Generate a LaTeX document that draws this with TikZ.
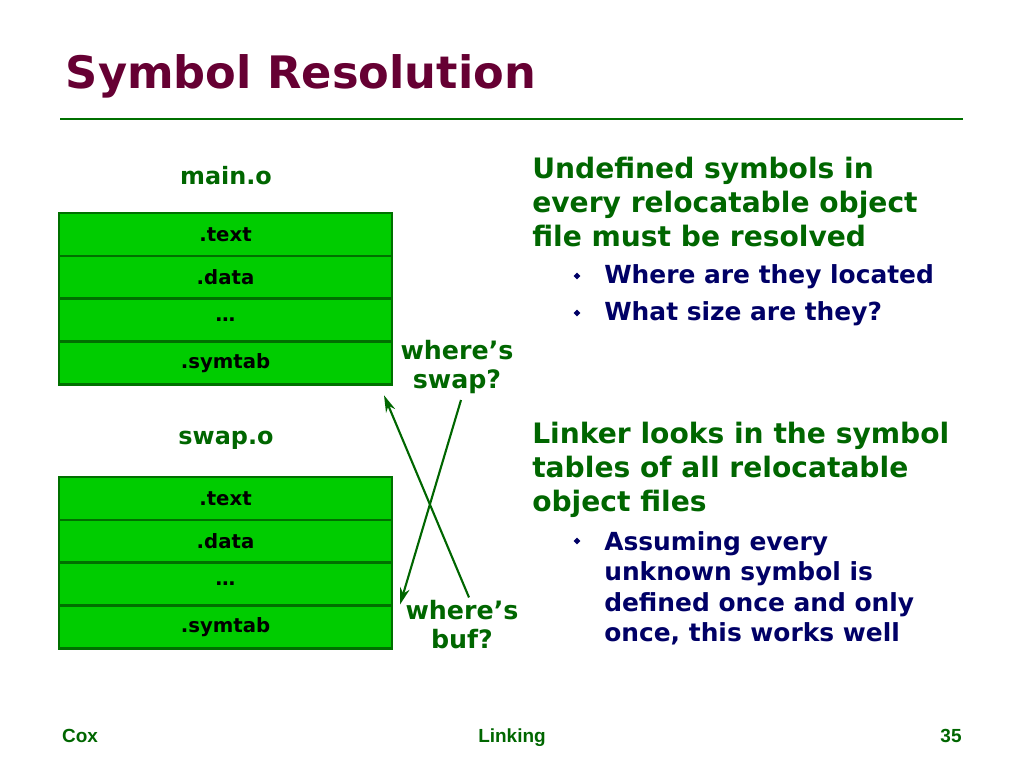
\documentclass[tikz,border=0pt]{standalone}
\usepackage{fontspec}
\setmainfont{DejaVu Sans}
\newfontfamily\footfont{Liberation Sans}
\usetikzlibrary{positioning,shapes.geometric,arrows.meta}
\definecolor{titlered}{RGB}{102,0,51}
\definecolor{dkgreen}{RGB}{0,102,0}
\definecolor{boxgreen}{RGB}{0,204,0}
\definecolor{boxline}{RGB}{0,112,0}
\definecolor{navy}{RGB}{0,0,102}
\begin{document}
\begin{tikzpicture}[x=0.025cm,y=-0.025cm,
	sect/.style={draw=boxline,line width=1.9pt,fill=boxgreen,minimum width=8.325cm,minimum height=1.07cm,
		outer sep=0pt,inner sep=0pt,font=\bfseries\fontsize{14}{16}\selectfont},
	objname/.style={text=dkgreen,font=\bfseries\fontsize{17}{20}\selectfont},
	ask/.style={text=dkgreen,align=center,inner sep=0pt,font=\bfseries\fontsize{18}{20.6}\selectfont},
	para/.style={text=dkgreen,align=left,inner sep=0pt,anchor=north west,font=\bfseries\fontsize{20}{24.2}\selectfont},
	item/.style={text=navy,align=left,inner sep=0pt,anchor=north west,font=\bfseries\fontsize{17.7}{21.7}\selectfont},
	bul/.style={diamond,fill=navy,inner sep=0pt,minimum size=0.18cm},
	link/.style={-{Stealth[length=12pt,width=7pt]},draw=dkgreen,line width=1.5pt},
	foot/.style={text=dkgreen,anchor=base,font=\footfont\bfseries\fontsize{13.5}{15}\selectfont}]
	\useasboundingbox (0,0) rectangle (1024,768);
	\node[anchor=base west,text=titlered,font=\bfseries\fontsize{31.8}{36}\selectfont] (ttl) at (61,89) {Symbol Resolution};
	\draw[draw=boxline,line width=1.4pt] (60,119) -- (963,119);

	\node[objname] (mainlbl) at (226,176) {main.o};
	\node[sect] (mtext) at (225.5,234.5) {.text};
	\node[sect,below=0pt of mtext] (mdata) {.data};
	\node[sect,below=0pt of mdata] (mdots) {…};
	\node[sect,below=0pt of mdots] (msym) {.symtab};

	\node[objname] (swaplbl) at (226,440) {swap.o};
	\node[sect] (stext) at (225.5,498.5) {.text};
	\node[sect,below=0pt of stext] (sdata) {.data};
	\node[sect,below=0pt of sdata] (sdots) {…};
	\node[sect,below=0pt of sdots] (ssym) {.symtab};

	\node[ask] (qswap) at (457,367) {where’s\\swap?};
	\node[ask] (qbuf) at (462,625) {where’s\\buf?};
	\coordinate (swaptip) at ([shift={(8,-1)}]ssym.north east);
	\coordinate (maintip) at ([shift={(-8,11)}]msym.south east);
	\draw[link] ([shift={(4,6)}]qswap.south) -- (swaptip);
	\draw[link] ([shift={(7,-3)}]qbuf.north) -- (maintip);

	\node[para] (undef) at (532,157) {Undefined symbols in\\every relocatable object\\file must be resolved};
	\node[bul] (b1) at (577,276) {};
	\node[item,anchor=west] (where) at (604,277) {Where are they located};
	\node[bul] (b2) at (577,313) {};
	\node[item,anchor=west] (size) at (604,314) {What size are they?};

	\node[para] (linker) at (532,422) {Linker looks in the symbol\\tables of all relocatable\\object files};
	\node[bul] (b3) at (577,541) {};
	\node[item] (assume) at (604,531) {Assuming every\\unknown symbol is\\defined once and only\\once, this works well};

	\node[foot] (cox) at (80,742) {Cox};
	\node[foot] (topic) at (512,742) {Linking};
	\node[foot] (page) at (951,742) {35};
\end{tikzpicture}
\end{document}
